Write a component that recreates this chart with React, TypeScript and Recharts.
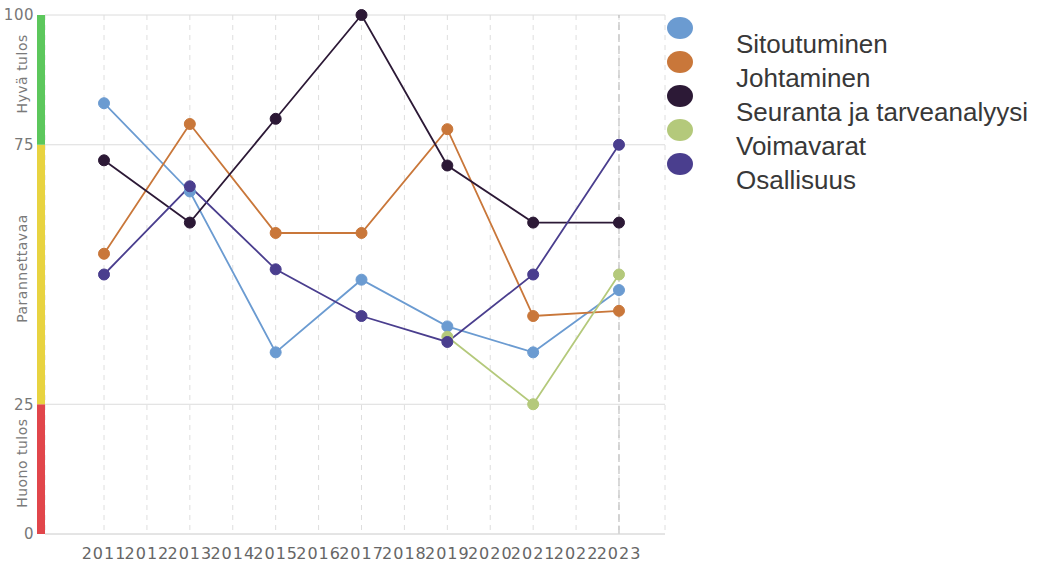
import React from "react";
import {
  LineChart,
  Line,
  XAxis,
  YAxis,
  CartesianGrid,
  ReferenceArea,
  ReferenceLine,
} from "recharts";

// survey years (only odd years have results)
const years = [2011, 2013, 2015, 2017, 2019, 2021, 2023];
const tickYears = [
  2011, 2012, 2013, 2014, 2015, 2016, 2017, 2018, 2019, 2020, 2021, 2022, 2023,
];
const yTicks = [0, 25, 75, 100];

const sitoutuminen = [83, 66, 35, 49, 40, 35, 47];
const johtaminen = [54, 79, 58, 58, 78, 42, 43];
const seuranta = [72, 60, 80, 100, 71, 60, 60];
const voimavarat = [null, null, null, null, 38, 25, 50];
const osallisuus = [50, 67, 51, 42, 37, 50, 75];

const seriesNames = [
  "Sitoutuminen",
  "Johtaminen",
  "Seuranta ja tarveanalyysi",
  "Voimavarat",
  "Osallisuus",
];
const seriesValues = [sitoutuminen, johtaminen, seuranta, voimavarat, osallisuus];
const seriesColors = ["#6b9bd1", "#c9773a", "#2c1936", "#b4c97b", "#4a3e8e"];

const bandLabels = ["Huono tulos", "Parannettavaa", "Hyvä tulos"];
const bandFrom = [0, 25, 75];
const bandTo = [25, 75, 100];
const bandColors = ["#e1464b", "#e8d340", "#5cc75c"];

const data = years.map((year, i) => {
  const row: Record<string, number | null> = { year };
  seriesValues.forEach((vals, k) => {
    row["s" + k] = vals[i];
  });
  return row;
});

const axisFont = "'DejaVu Sans', sans-serif";

const Band = (label: string, color: string) => (p: any) => {
  const cx = p.x - 23;
  const cy = p.y + p.height / 2 - 6;
  return (
    <g>
      <rect x={p.x - 8} y={p.y} width={8} height={p.height} fill={color} />
      <text
        x={cx}
        y={cy}
        transform={`rotate(-90, ${cx}, ${cy})`}
        textAnchor="middle"
        dominantBaseline="central"
        fontSize={14}
        letterSpacing={0.5}
        fill="#7a7a7a"
        fontFamily={axisFont}
      >
        {label}
      </text>
    </g>
  );
};

const App: React.FC = () => {
  return (
    <div
      style={{
        position: "absolute",
        left: 0,
        top: 0,
        width: 1041,
        height: 566,
        background: "#fff",
      }}
    >
      <LineChart
        width={1041}
        height={566}
        data={data}
        margin={{ top: 15, right: 376, bottom: 0, left: 0 }}
      >
        <CartesianGrid vertical={false} stroke="#dcdcdc" />
        <CartesianGrid horizontal={false} stroke="#dedede" strokeDasharray="5 5" />
        <XAxis
          dataKey="year"
          type="number"
          domain={[2009.625, 2024.072]}
          ticks={tickYears}
          interval={0}
          height={32}
          axisLine={{ stroke: "#dcdcdc" }}
          tickLine={false}
          tickSize={0}
          tickMargin={14}
          tick={{
            fontSize: 16,
            fill: "#666",
            fontFamily: axisFont,
            letterSpacing: 1,
          }}
        />
        <YAxis
          domain={[0, 100]}
          ticks={yTicks}
          interval={0}
          width={45}
          axisLine={false}
          tickLine={false}
          tickSize={0}
          tickMargin={11}
          tick={{
            fontSize: 15,
            fill: "#777",
            fontFamily: axisFont,
            letterSpacing: 0.5,
          }}
        />
        {bandLabels.map((label, i) => (
          <ReferenceArea
            key={label}
            y1={bandFrom[i]}
            y2={bandTo[i]}
            shape={Band(label, bandColors[i])}
          />
        ))}
        <ReferenceLine
          x={years[years.length - 1]}
          stroke="#b5b5b5"
          strokeDasharray="8 4"
        />
        {seriesNames.map((name, k) => (
          <Line
            key={name}
            name={name}
            type="linear"
            dataKey={"s" + k}
            stroke={seriesColors[k]}
            strokeWidth={1.8}
            dot={{ r: 5.5, fill: seriesColors[k], stroke: seriesColors[k], strokeWidth: 1 }}
            activeDot={false}
            connectNulls
            isAnimationActive={false}
          />
        ))}
      </LineChart>

      {/* legend: dots sit half a row above their labels */}
      {seriesNames.map((name, k) => (
        <React.Fragment key={name}>
          <div
            style={{
              position: "absolute",
              left: 667,
              top: 17 + k * 34,
              width: 26,
              height: 22,
              borderRadius: "50%",
              background: seriesColors[k],
            }}
          />
          <div
            style={{
              position: "absolute",
              left: 736,
              top: 29 + k * 34,
              fontFamily: "'Liberation Sans', Arial, sans-serif",
              fontSize: 26,
              lineHeight: "30px",
              color: "#383838",
              whiteSpace: "nowrap",
            }}
          >
            {name}
          </div>
        </React.Fragment>
      ))}
    </div>
  );
};

export default App;
